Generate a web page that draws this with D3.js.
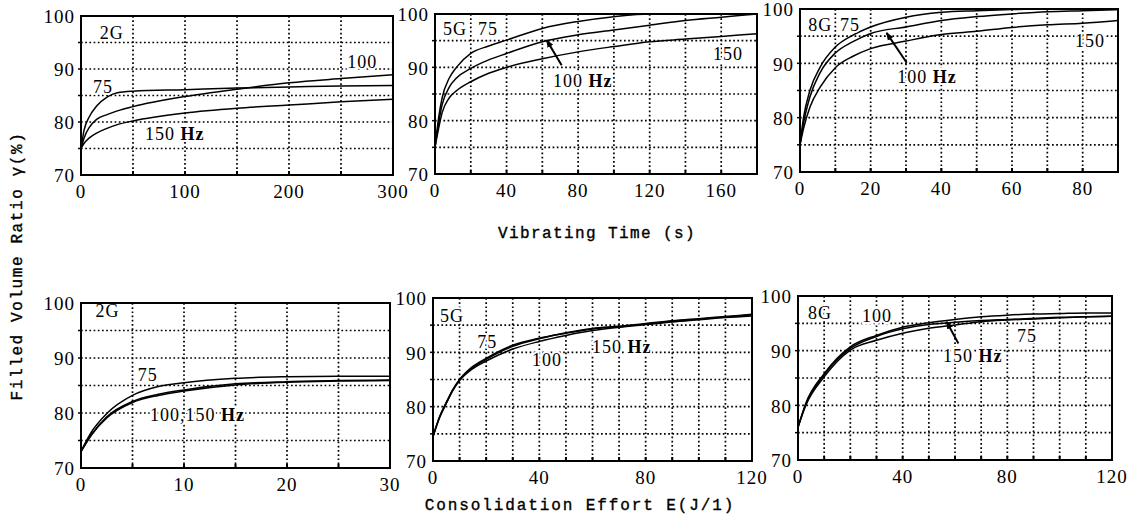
<!DOCTYPE html>
<html>
<head>
<meta charset="utf-8">
<script src="https://cdn.jsdelivr.net/npm/d3@7"></script>
<style>
  body { margin: 0; background: #fff; }
  .tick-label { font-family: "Liberation Serif", serif; font-size: 19px; letter-spacing: 1px; }
  .note { font-family: "Liberation Serif", serif; font-size: 18px; letter-spacing: 1px;
          paint-order: stroke; stroke: #fff; stroke-width: 4px; }
  .title { font-family: "Liberation Mono", monospace; font-size: 16px; stroke: #000; stroke-width: 0.35px; }
</style>
</head>
<body>
<script>
// ---- data ----
// top row: vibrating time (s)
const time2G = [0, 3, 8, 15, 25, 35, 50, 100, 150, 200, 250, 300];
const time2G_75 = [75, 78.5, 81, 83, 84.7, 85.5, 85.8, 86.1, 86.4, 86.6, 86.8, 86.9];
const time2G_100 = [75, 77, 79, 80.5, 81.4, 82.1, 82.9, 84.8, 86.2, 87.4, 88.2, 88.9];
const time2G_150 = [75, 76, 77, 77.9, 78.8, 79.5, 80.2, 81.7, 82.6, 83.2, 83.8, 84.3];

const time5G = [0, 2, 4, 8, 12, 20, 30, 40, 60, 80, 100, 120, 140, 160, 180];
const time5G_75 = [75, 80.5, 84.3, 88, 90, 92.6, 94, 95.1, 97.3, 98.6, 99.5, 100, 100, 100, 100];
const time5G_100 = [75, 79.5, 83, 86.3, 88, 89.8, 91.4, 92.6, 94.8, 96.1, 97, 97.9, 98.8, 99.4, 100];
const time5G_150 = [75, 78.5, 81.5, 84.3, 85.6, 87.3, 88.9, 90, 91.6, 92.9, 93.9, 94.8, 95.3, 95.8, 96.3];

const time8G = [0, 1, 2.8, 5.7, 10, 15, 20, 30, 40, 50, 60, 70, 80, 90];
const time8G_75 = [75, 80, 85, 89.3, 93, 95.2, 96.7, 98.5, 99.4, 99.7, 99.9, 100, 100, 100];
const time8G_100 = [75, 79, 83.8, 88.3, 91.9, 94, 95.5, 96.7, 97.9, 98.6, 99.1, 99.5, 99.7, 99.9];
const time8G_150 = [75, 78, 81.9, 85.6, 89.2, 91.3, 92.7, 94.1, 95.3, 95.9, 96.6, 97.1, 97.4, 97.9];

// bottom row: consolidation effort E (J/l)
const effort2G = [0, 1, 2.5, 5, 7.5, 10, 15, 20, 25, 30];
const effort2G_75 = [73, 76.5, 79.9, 83.2, 84.8, 85.5, 86.3, 86.6, 86.7, 86.7];
const effort2G_100 = [73, 76, 79.3, 82.1, 83.4, 84.2, 85.3, 85.7, 85.9, 86.0];
const effort2G_150 = [73, 76, 79.1, 81.9, 83.2, 84.0, 85.1, 85.6, 85.8, 85.9];

const effort5G = [0, 2.5, 5, 7.5, 10, 15, 20, 30, 40, 50, 60, 70, 80, 90, 100, 110, 120];
const effort5G_75 = [74.5, 78.2, 80.8, 83.2, 85.0, 87.4, 88.9, 91.3, 92.6, 93.5, 94.3, 94.7, 95.2, 95.7, 96.1, 96.5, 96.9];
const effort5G_100 = [74.5, 78.0, 80.6, 83.0, 84.8, 87.0, 88.4, 90.6, 92.0, 93.1, 94.0, 94.6, 95.1, 95.6, 96.0, 96.4, 96.7];
const effort5G_150 = [74.5, 78.1, 80.7, 83.1, 84.9, 87.2, 88.7, 91.1, 92.5, 93.6, 94.4, 94.8, 95.3, 95.8, 96.2, 96.6, 97.0];

const effort8G = [0, 3, 10, 20, 30, 40, 50, 60, 70, 80, 90, 100, 110, 120];
const effort8G_75 = [76, 80, 85.2, 90.1, 91.9, 93.2, 94.1, 94.7, 95.3, 95.6, 95.8, 96.0, 96.2, 96.3];
const effort8G_100 = [76, 80.4, 85.8, 90.7, 92.8, 94.3, 95.1, 95.7, 96.2, 96.5, 96.7, 96.8, 96.9, 96.9];
const effort8G_150 = [76, 80.2, 85.6, 90.4, 92.6, 94.0, 94.8, 95.2, 95.5, 95.7, 95.9, 96.1, 96.2, 96.3];

// axis ticks
const yLabelTicks = [70, 80, 90, 100];
const yGridTicks = [75, 80, 85, 90, 95];

// ---- panel layout ----
const panels = [
  { box: [81, 16, 393, 175], xMax: 300, grid: 50, labels: [0, 100, 200, 300],
    x: time2G, series: [time2G_75, time2G_100, time2G_150],
    notes: [["2G", 18, 95.7], ["75", 11.5, 85.5], ["100", 256, 90.2], ["150 |Hz", 61.5, 76.6]],
    arrow: null },
  { box: [435, 14, 757, 174], xMax: 180, grid: 20, labels: [0, 40, 80, 120, 160],
    x: time5G, series: [time5G_75, time5G_100, time5G_150],
    notes: [["5G", 4.5, 96.1], ["75", 24, 96.1], ["100 |Hz", 66, 86.3], ["150", 155.4, 91.4]],
    arrow: [70.8, 90.4, 62.4, 95.1] },
  { box: [800, 9, 1118, 172], xMax: 90, grid: 10, labels: [0, 20, 40, 60, 80],
    x: time8G, series: [time8G_75, time8G_100, time8G_150],
    notes: [["8G", 2.3, 96], ["75", 11.3, 96], ["100 |Hz", 27.5, 86.4], ["150", 77.8, 93]],
    arrow: [30.2, 90.1, 24.5, 95.6] },
  { box: [81, 303, 390, 468], xMax: 30, grid: 5, labels: [0, 10, 20, 30],
    x: effort2G, series: [effort2G_75, effort2G_100, effort2G_150],
    notes: [["2G", 1.4, 97.5], ["75", 5.5, 85.8], ["100,150 |Hz", 6.7, 78.5]],
    arrow: null },
  { box: [433, 298, 752, 461], xMax: 120, grid: 10, labels: [0, 40, 80, 120],
    x: effort5G, series: [effort5G_75, effort5G_100, effort5G_150],
    notes: [["5G", 2.6, 95.6], ["75", 16.6, 90.8], ["100", 37.2, 87.5], ["150 |Hz", 59.8, 89.9]],
    arrow: null },
  { box: [798, 296, 1112, 460], xMax: 120, grid: 10, labels: [0, 40, 80, 120],
    x: effort8G, series: [effort8G_75, effort8G_100, effort8G_150],
    notes: [["8G", 3.8, 95.8], ["100", 24.5, 95.2], ["75", 83.7, 91.6], ["150 |Hz", 55.4, 87.9]],
    arrow: [61.3, 91.3, 56.8, 95.3] }
];

const svg = d3.select("body").append("svg")
  .attr("width", 1127)
  .attr("height", 516);

svg.append("defs").append("marker")
  .attr("id", "head")
  .attr("viewBox", "0 0 10 10")
  .attr("refX", 9).attr("refY", 5)
  .attr("markerWidth", 4).attr("markerHeight", 4)
  .attr("orient", "auto")
  .append("path")
  .attr("d", "M0,1 L10,5 L0,9 Z")
  .attr("fill", "#000");

// draw one panel
function drawPanel(p) {
  const [x0, y0, x1, y1] = p.box;
  const x = d3.scaleLinear().domain([0, p.xMax]).range([x0, x1]);
  const y = d3.scaleLinear().domain([70, 100]).range([y1, y0]);
  const g = svg.append("g");

  // dotted grid
  g.selectAll(".hgrid").data(yGridTicks).enter().append("line")
    .attr("x1", x0).attr("x2", x1)
    .attr("y1", d => y(d)).attr("y2", d => y(d))
    .attr("stroke", "#000").attr("stroke-width", 1.7)
    .attr("stroke-dasharray", "1.7,2.5");
  g.selectAll(".vgrid").data(d3.range(p.grid, p.xMax, p.grid)).enter().append("line")
    .attr("x1", d => x(d)).attr("x2", d => x(d))
    .attr("y1", y0).attr("y2", y1)
    .attr("stroke", "#000").attr("stroke-width", 1.7)
    .attr("stroke-dasharray", "1.7,2.5");

  // curves
  const line = d3.line()
    .x((d, i) => x(p.x[i]))
    .y(d => y(d))
    .curve(d3.curveMonotoneX);
  p.series.forEach(s => {
    g.append("path")
      .attr("d", line(s))
      .attr("fill", "none")
      .attr("stroke", "#000")
      .attr("stroke-width", 1.5);
  });

  // notes on the curves ("|" marks where bold Hz starts)
  p.notes.forEach(n => {
    const parts = n[0].split("|");
    const t = g.append("text")
      .attr("class", "note")
      .attr("x", x(n[1]))
      .attr("y", y(n[2]));
    t.append("tspan").text(parts[0]);
    if (parts[1]) t.append("tspan").attr("font-weight", "bold").text(parts[1]);
  });

  if (p.arrow) {
    g.append("line")
      .attr("x1", x(p.arrow[0])).attr("y1", y(p.arrow[1]))
      .attr("x2", x(p.arrow[2])).attr("y2", y(p.arrow[3]))
      .attr("stroke", "#000").attr("stroke-width", 2)
      .attr("marker-end", "url(#head)");
  }

  // frame
  g.append("rect")
    .attr("x", x0).attr("y", y0)
    .attr("width", x1 - x0).attr("height", y1 - y0)
    .attr("fill", "none").attr("stroke", "#000").attr("stroke-width", 2);

  // small tick marks on the axes
  g.selectAll(".xt").data(d3.range(0, p.xMax + 0.001, p.grid)).enter().append("line")
    .attr("x1", d => x(d)).attr("x2", d => x(d))
    .attr("y1", y1).attr("y2", y1 - 4)
    .attr("stroke", "#000").attr("stroke-width", 2);
  g.selectAll(".yt").data(yGridTicks).enter().append("line")
    .attr("x1", x0).attr("x2", x0 - 3)
    .attr("y1", d => y(d)).attr("y2", d => y(d))
    .attr("stroke", "#000").attr("stroke-width", 1.5);

  // tick labels
  g.selectAll(".yl").data(yLabelTicks).enter().append("text")
    .attr("class", "tick-label")
    .attr("x", x0 - 6)
    .attr("y", d => y(d))
    .attr("dy", "0.38em")
    .attr("text-anchor", "end")
    .text(d => d);
  g.selectAll(".xl").data(p.labels).enter().append("text")
    .attr("class", "tick-label")
    .attr("x", d => x(d))
    .attr("y", y1 + 23)
    .attr("text-anchor", "middle")
    .text(d => d);
}

panels.forEach(drawPanel);

// axis titles
svg.append("text")
  .attr("class", "title")
  .attr("x", 597).attr("y", 238)
  .attr("text-anchor", "middle")
  .attr("letter-spacing", "1.4px")
  .text("Vibrating Time (s)");
svg.append("text")
  .attr("class", "title")
  .attr("x", 580).attr("y", 510)
  .attr("text-anchor", "middle")
  .attr("letter-spacing", "1.9px")
  .text("Consolidation Effort E(J/1)");
svg.append("text")
  .attr("class", "title")
  .attr("transform", "translate(22,266) rotate(-90)")
  .attr("text-anchor", "middle")
  .attr("letter-spacing", "1.6px")
  .text("Filled Volume Ratio γ(%)");
</script>
</body>
</html>
